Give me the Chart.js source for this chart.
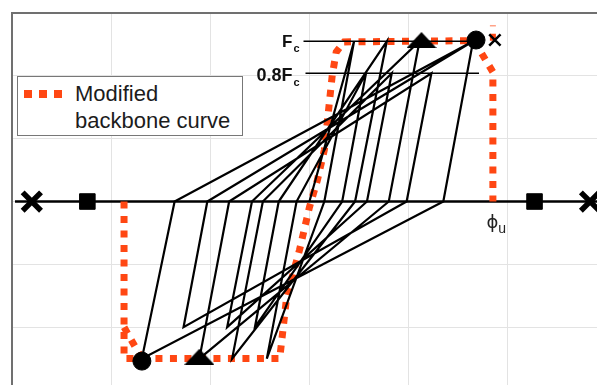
<!DOCTYPE html>
<html>
<head>
<meta charset="utf-8">
<script src="https://cdn.jsdelivr.net/npm/chart.js@4"></script>
<style>
  html, body { margin: 0; padding: 0; background: #fff; overflow: hidden; }
  .wrap { position: relative; width: 597px; height: 385px; }
  .legend {
    position: absolute; left: 17px; top: 76px; width: 224px; height: 58px;
    border: 1.5px solid #777; background: #fff;
    font-family: 'Liberation Sans', Arial, sans-serif; font-size: 22px; color: #1c1c1c;
  }
  .legend .swatch {
    position: absolute; left: 6px; top: 13px; width: 40px; height: 8px;
    background: repeating-linear-gradient(to right, #FF4713 0 8px, transparent 8px 15px);
  }
  .legend .txt { position: absolute; left: 57px; top: 3px; line-height: 27px; }
</style>
</head>
<body>
<div class="wrap">
  <canvas id="hystChart"></canvas>
  <div class="legend"><div class="swatch"></div><div class="txt">Modified<br>backbone curve</div></div>
</div>
<script>
// === data (grid units, x = curvature, y = moment) ===
const fcLevel = 2.55;
const fc08Level = 2.04;

// hysteresis loops
const loopX = [0, 0.45, 0.15, -0.43, -0.13, 0.57, 0.33, -0.55, -0.31, 0.78, 0.46, -0.78, -0.47,
               0.83, 0.58, -0.83, -0.58, 1.11, 0.80, -1.11, -0.81, 1.23, 0.98, -1.27, -1.03,
               1.65, 1.35, -1.69, -1.36, 1.65];
const loopY = [0, 2.55, 0, -2.5, 0, 2.04, 0, -2.0, 0, 2.55, 0, -2.5, 0,
               2.04, 0, -2.0, 0, 2.55, 0, -2.5, 0, 2.04, 0, -2.0, 0,
               2.55, 0, -2.5, 0, 2.55];

// modified backbone curve
const backboneX = [-1.87, -1.87, -0.30, -0.23, -0.10, 0.00, 0.08, 0.15, 0.23, 0.27, 0.35, 1.66, 1.85, 1.85];
const backboneY = [0, -2.5, -2.5, -1.52, -0.77, -0.09, 0.34, 0.82, 2.01, 2.38, 2.54, 2.56, 2.06, 0];
const backboneNegX = [-1.69, -1.87];
const backboneNegY = [-2.5, -2.0];
const backboneTopX = [1.85, 1.85];
const backboneTopY = [2.56, 2.8];

// Fc and 0.8Fc reference lines
const fcLineX = [-0.06, 1.66];
const fc08LineX = [-0.04, 1.71];

// zero axis
const axisX = [-2.97, 2.9];

// markers
const circleX = [-1.69, 1.68], circleY = [-2.54, 2.57];
const triangleX = [-1.11, 1.13], triangleY = [-2.47, 2.57];
const squareX = [-2.24, 2.27], squareY = [0, 0];
const crossX = [-2.80, 2.83], crossY = [0, 0];
const smallCrossX = [1.87], smallCrossY = [2.57];

const phiX = 1.785, phiY = -0.42;

const ORANGE = '#FF4713';

function pts(xs, ys) {
    return xs.map((v, i) => ({ x: v, y: Array.isArray(ys) ? ys[i] : ys }));
}

// flat triangle marker
function flatTriangle() {
    const c = document.createElement('canvas');
    c.width = 30; c.height = 16;
    const g = c.getContext('2d');
    g.fillStyle = '#000';
    g.beginPath();
    g.moveTo(15, 0); g.lineTo(30, 16); g.lineTo(0, 16); g.closePath();
    g.fill();
    return c;
}

function drawSub(ctx, main, sub, xRight, base, size) {
    ctx.font = 'bold ' + size + 'px "Liberation Sans", Arial, sans-serif';
    const mw = ctx.measureText(main).width;
    ctx.font = 'bold ' + Math.round(size * 0.62) + 'px "Liberation Sans", Arial, sans-serif';
    const sw = ctx.measureText(sub).width;
    ctx.textAlign = 'left';
    ctx.fillText(sub, xRight - sw, base + 5);
    ctx.font = 'bold ' + size + 'px "Liberation Sans", Arial, sans-serif';
    ctx.fillText(main, xRight - sw - mw - 1, base);
}

const labelPlugin = {
    id: 'fcLabels',
    afterDatasetsDraw(chart) {
        const { ctx, scales: { x, y } } = chart;
        ctx.save();
        ctx.fillStyle = '#111';
        ctx.textBaseline = 'alphabetic';
        drawSub(ctx, 'F', 'c', x.getPixelForValue(-0.10), y.getPixelForValue(fcLevel) + 6, 17);
        drawSub(ctx, '0.8F', 'c', x.getPixelForValue(-0.10), y.getPixelForValue(fc08Level) + 8, 18);
        // phi_u
        const px = x.getPixelForValue(phiX), py = y.getPixelForValue(phiY);
        ctx.fillStyle = '#222';
        ctx.font = '18px "DejaVu Sans", sans-serif';
        ctx.textAlign = 'left';
        ctx.fillText('\u03D5', px, py);
        const w = ctx.measureText('\u03D5').width;
        ctx.font = '14px "Liberation Sans", Arial, sans-serif';
        ctx.fillText('u', px + w, py + 5);
        ctx.restore();
    }
};

const lineBase = { showLine: true, pointRadius: 0, fill: false };
const onlyWhole = s => { s.ticks = s.ticks.filter(t => Number.isInteger(t.value)); };

new Chart(document.getElementById('hystChart').getContext('2d'), {
    type: 'scatter',
    data: {
        datasets: [
            { data: pts(smallCrossX, smallCrossY), pointStyle: 'crossRot', pointRadius: 8, borderColor: '#000', borderWidth: 2.5 },
            { data: pts(circleX, circleY), pointStyle: 'circle', pointRadius: 9, backgroundColor: '#000', borderColor: '#000' },
            { data: pts(triangleX, triangleY), pointStyle: flatTriangle(), backgroundColor: '#000' },
            { data: pts(squareX, squareY), pointStyle: 'rect', pointRadius: 11, backgroundColor: '#000', borderColor: '#000' },
            { data: pts(crossX, crossY), pointStyle: 'crossRot', pointRadius: 13, borderColor: '#000', borderWidth: 5.5 },
            { ...lineBase, data: pts(loopX, loopY), borderColor: '#000', borderWidth: 2.2 },
            { ...lineBase, data: pts(fcLineX, fcLevel), borderColor: '#000', borderWidth: 1.6 },
            { ...lineBase, data: pts(fc08LineX, fc08Level), borderColor: '#000', borderWidth: 1.6 },
            { ...lineBase, data: pts(backboneX, backboneY), borderColor: ORANGE, borderWidth: 7, borderDash: [7, 7.5] },
            { ...lineBase, data: pts(backboneNegX, backboneNegY), borderColor: ORANGE, borderWidth: 7, borderDash: [7, 7.5] },
            { ...lineBase, data: pts(backboneTopX, backboneTopY), borderColor: ORANGE, borderWidth: 6, borderDash: [7, 7.5] },
            { ...lineBase, data: pts(axisX, 0), borderColor: '#000', borderWidth: 2.5 }
        ]
    },
    options: {
        responsive: true,
        maintainAspectRatio: false,
        animation: false,
        layout: { autoPadding: false, padding: { left: 12, top: 13, right: 0, bottom: 0 } },
        plugins: { legend: { display: false }, tooltip: { enabled: false } },
        scales: {
            x: {
                type: 'linear', position: 'top', min: -3, max: 2.9,
                afterBuildTicks: onlyWhole,
                afterFit: s => { s.height = 0; },
                ticks: { display: false, stepSize: 1 },
                grid: { color: '#e3e3e3', lineWidth: 1, drawTicks: false },
                border: { display: true, color: '#707070', width: 2 }
            },
            y: {
                type: 'linear', position: 'left', min: -2.92, max: 3,
                afterBuildTicks: onlyWhole,
                afterFit: s => { s.width = 0; },
                ticks: { display: false, stepSize: 1 },
                grid: { color: '#e3e3e3', lineWidth: 1, drawTicks: false },
                border: { display: true, color: '#707070', width: 2 }
            }
        }
    },
    plugins: [labelPlugin]
});
</script>
</body>
</html>
